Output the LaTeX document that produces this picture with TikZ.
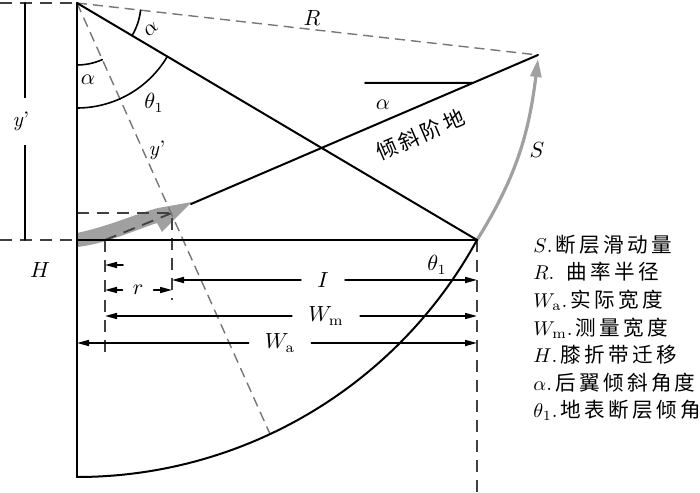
\documentclass[tikz,border=0pt]{standalone}
\usepackage{amssymb,amsmath}
\usepackage{fontspec}
\newfontfamily\cjk{Noto Sans CJK SC}[LetterSpace=16]
\usetikzlibrary{arrows.meta}
\definecolor{darkdash}{RGB}{64,64,64}
\definecolor{lightdash}{RGB}{118,118,118}
\definecolor{slipgray}{RGB}{160,160,160}

\begin{document}
\begin{tikzpicture}[line cap=round,line join=round,>={Triangle[length=6pt,width=3pt]},x=0.5pt,y=0.5pt,
    lbl/.style={font=\fontsize{10.5}{12}\selectfont,inner sep=1pt},
    legend/.style={font=\fontsize{10.3}{12}\selectfont,anchor=west,inner sep=0pt},
    main/.style={line width=1pt,color=black},
    guide/.style={line width=0.9pt,color=darkdash,line cap=butt,dash pattern=on 6pt off 4pt},
    ray/.style={line width=0.7pt,color=lightdash,line cap=butt,dash pattern=on 5pt off 3pt},
    dim/.style={line width=0.8pt,->}]
    \useasboundingbox (0,0) rectangle (700,492);
    % points of the section
    \coordinate (O) at (77,489);
    \coordinate (B) at (77,15);
    \coordinate (G) at (77,252);
    \coordinate (E) at (477,252);
    \coordinate (Eb) at (477,0);
    \coordinate (P) at (538,437);
    \coordinate (St) at (538,433);
    \coordinate (T) at (191,288);
    \coordinate (A) at (270,58);
    \coordinate (K) at (172,279);
    \coordinate (Kl) at (77,279);
    \coordinate (Kb) at (172,192);
    \coordinate (D) at (105,252);
    \coordinate (Db) at (105,134);
    \coordinate (Tl) at (0,489);
    \coordinate (Gl) at (0,252);
    \coordinate (Yt) at (25,489);
    \coordinate (Yb) at (25,252);
    \coordinate (Ha) at (365,409);
    \coordinate (Hb) at (480,409);
    % slip along the ramp
    \fill[slipgray] (77,259) .. controls (110,266) and (138,279) .. (158,284) -- (192,290) -- (162,260) -- (157,269) .. controls (130,260) and (105,248) .. (77,245) -- cycle;
    \draw[slipgray,line width=1.6pt,-{Triangle[length=9pt,width=5.5pt]}] (E) to[out=58,in=-97] (St);
    % guide lines
    \draw[guide] (Tl) -- (O);
    \draw[guide] (Gl) -- (G);
    \draw[guide] (Kl) -- (K) -- (Kb);
    \draw[guide] (D) -- (Db);
    \draw[guide] (E) -- (Eb);
    \draw[guide] (D) -- (K);
    \draw[ray] (O) -- (P);
    \draw[ray] (O) -- (A);
    % section lines
    \draw[main] (O) -- (B);
    \draw[main] (B) arc (-90:-28.7:456);
    \draw[main] (G) -- (E);
    \draw[main] (O) -- (E);
    \draw[main] (T) -- node[lbl,sloped,below=7pt,pos=0.63] (ramp) {\cjk 倾斜阶地} (P);
    \draw[main] (Ha) -- (intersection of T--P and Ha--Hb) coordinate (Hc);
    \draw[line width=0.8pt] (Yt) -- node[lbl,fill=white,inner ysep=7pt,xshift=-2pt] (yl) {\textit{y}'} (Yb);
    % angles
    \draw[line width=0.8pt] ([shift={(-90:105)}]O) arc (-90:-30.65:105);
    \draw[line width=0.8pt] ([shift={(-90:62)}]O) arc (-90:-65.9:62);
    \draw[line width=0.8pt] ([shift={(-30.65:64)}]O) arc (-30.65:-6.44:64);
    \node[lbl,rotate=40] (atop) at (151,463) {$\alpha$};
    \node[lbl] (aleft) at (88,412) {$\alpha$};
    \node[lbl] (th) at (154,389) {$\theta_1$};
    \node[lbl] (yd) at (157,342) {\textit{y}'};
    \node[lbl] (R) at (312,474) {$R$};
    \node[lbl] (aramp) at (383,387) {$\alpha$};
    \node[lbl] (S) at (537,342) {$S$};
    \node[lbl] (H) at (40,222) {$H$};
    \node[lbl] (thb) at (437,227) {$\theta_1$};
    % widths
    \coordinate (r0) at (123,227);
    \draw[dim] (r0) -- (r0 -| D);
    \node[lbl,inner xsep=8pt] (I) at (323,212) {$I$};
    \draw[dim] (I.west) -- (I.west -| K);
    \draw[dim] (I.east) -- (I.east -| E);
    \node[lbl,inner xsep=5pt] (r) at (138,202) {$r$};
    \draw[dim] (r.west) -- (r.west -| D);
    \draw[dim] (r.east) -- (r.east -| K);
    \node[lbl,inner xsep=8pt] (Wm) at (326,176) {$W_{\mathrm{m}}$};
    \draw[dim] (Wm.west) -- (Wm.west -| D);
    \draw[dim] (Wm.east) -- (Wm.east -| E);
    \node[lbl,inner xsep=8pt] (Wa) at (280,149) {$W_{\mathrm{a}}$};
    \draw[dim] (Wa.west) -- (Wa.west -| G);
    \draw[dim] (Wa.east) -- (Wa.east -| E);
    % legend
    \node[legend] (l1) at (533,247) {$S$.\,{\cjk 断层滑动量}};
    \node[legend] (l2) at (533,220) {$R$.\hspace{6pt}{\cjk 曲率半径}};
    \node[legend] (l3) at (533,192) {$W_{\mathrm{a}}$.\,{\cjk 实际宽度}};
    \node[legend] (l4) at (533,164) {$W_{\mathrm{m}}$.\,{\cjk 测量宽度}};
    \node[legend] (l5) at (533,137) {$H$.\,{\cjk 膝折带迁移}};
    \node[legend] (l6) at (533,109) {$\alpha$.\,{\cjk 后翼倾斜角度}};
    \node[legend] (l7) at (533,82) {$\theta_1$.\,{\cjk 地表断层倾角}};
\end{tikzpicture}
\end{document}
